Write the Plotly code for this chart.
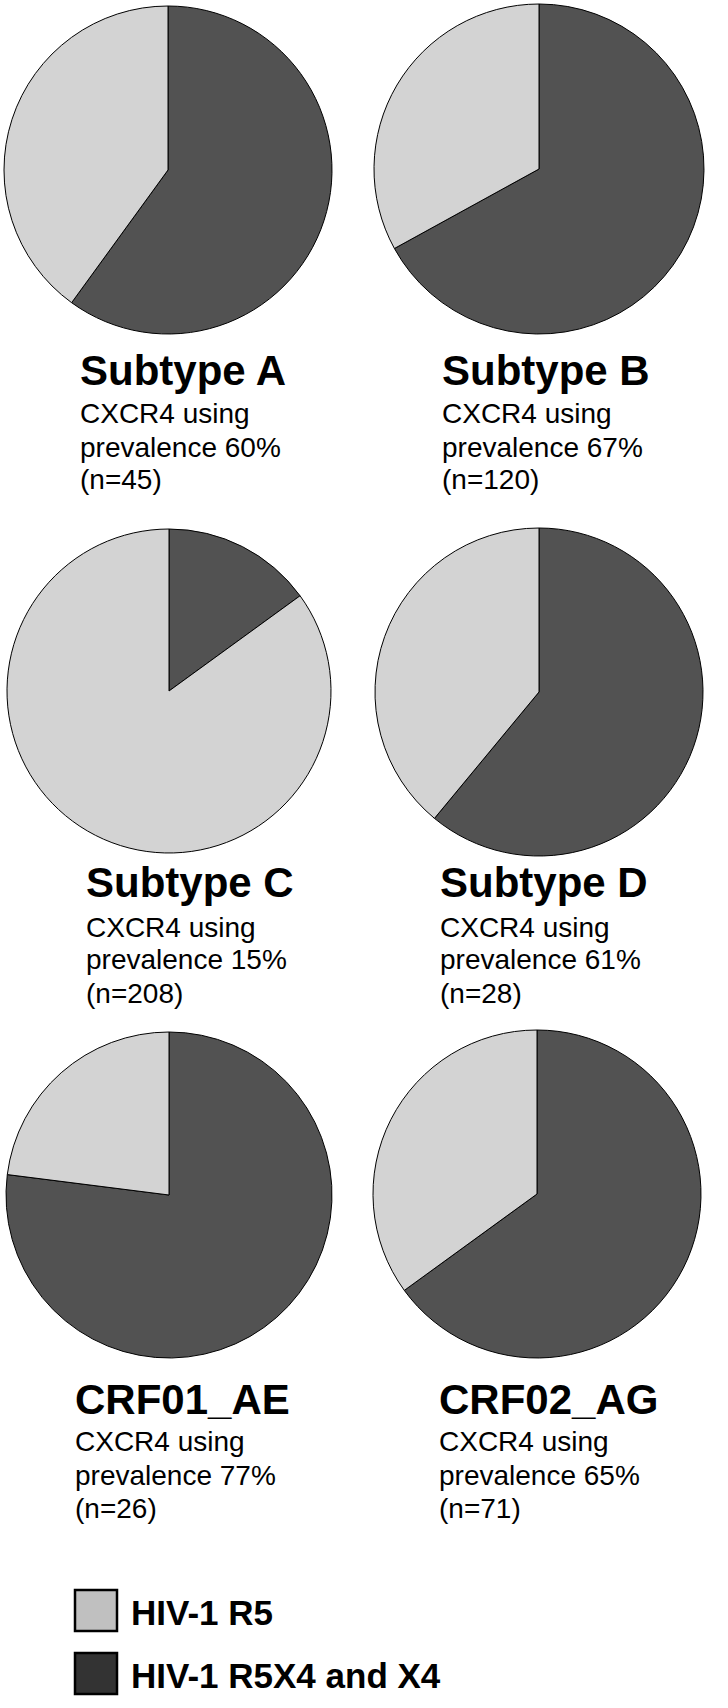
import plotly.graph_objects as go

W, H = 728, 1708

subtypes = ['Subtype A', 'Subtype B', 'Subtype C', 'Subtype D', 'CRF01_AE', 'CRF02_AG']
x4_prevalence = [60, 67, 15, 61, 77, 65]
n_samples = [45, 120, 208, 28, 26, 71]
legend_labels = ['HIV-1 R5', 'HIV-1 R5X4 and X4']

# pie centre / radius in reference pixels
pie_cx = [168, 539, 169, 539, 169, 537]
pie_cy = [170, 169, 691, 692, 1195, 1194]
pie_r = [164, 165, 162, 164, 163, 164]

# text block placement (reference pixels): left x, cap-centre y of title and 3 lines
text_x = [80, 442, 86, 440, 75, 439]
title_y = [370, 370, 882, 882, 1399, 1399]
line_y = [[414, 447, 480], [414, 447, 480], [927, 960, 993],
          [927, 960, 993], [1441, 1475, 1508], [1441, 1475, 1508]]

DARK = '#525252'
LIGHT = '#d3d3d3'
FONT = 'Liberation Sans, Arial, sans-serif'
TXT_PAD = 2  # annotation box padding in front of the text


def px_x(x):
    return x / W


def px_y(y):
    return 1 - y / H


fig = go.Figure()
annotations = []

for i, name in enumerate(subtypes):
    cx, cy, r = pie_cx[i], pie_cy[i], pie_r[i]
    fig.add_trace(go.Pie(
        labels=[legend_labels[1], legend_labels[0]],
        values=[x4_prevalence[i], 100 - x4_prevalence[i]],
        sort=False,
        direction='clockwise',
        rotation=0,
        textinfo='none',
        hoverinfo='label+percent',
        marker=dict(colors=[DARK, LIGHT], line=dict(color='black', width=1)),
        domain=dict(x=[px_x(cx - r), px_x(cx + r)], y=[px_y(cy + r), px_y(cy - r)]),
        showlegend=False,
    ))

    annotations.append(dict(
        text='<b>%s</b>' % name, x=px_x(text_x[i] - TXT_PAD), y=px_y(title_y[i]),
        xref='paper', yref='paper', xanchor='left', yanchor='middle',
        showarrow=False, font=dict(family=FONT, size=42, color='black')))

    lines = ['CXCR4 using', 'prevalence %d%%' % x4_prevalence[i], '(n=%d)' % n_samples[i]]
    for txt, ly in zip(lines, line_y[i]):
        annotations.append(dict(
            text=txt, x=px_x(text_x[i] - TXT_PAD), y=px_y(ly),
            xref='paper', yref='paper', xanchor='left', yanchor='middle',
            showarrow=False, font=dict(family=FONT, size=28, color='black')))

# hand-drawn legend at the bottom
legend_colors = ['#c0c0c0', '#333333']
legend_box_y = [1590, 1653]
shapes = []
for lab, col, by in zip(legend_labels, legend_colors, legend_box_y):
    shapes.append(dict(type='rect', xref='paper', yref='paper',
                       x0=px_x(75), x1=px_x(117), y0=px_y(by + 41), y1=px_y(by),
                       fillcolor=col, line=dict(color='black', width=2.5)))
    annotations.append(dict(
        text='<b>%s</b>' % lab, x=px_x(131 - TXT_PAD), y=px_y(by + 22),
        xref='paper', yref='paper', xanchor='left', yanchor='middle',
        showarrow=False, font=dict(family=FONT, size=35, color='black')))

fig.update_layout(
    width=W, height=H,
    margin=dict(l=0, r=0, t=0, b=0),
    paper_bgcolor='white',
    plot_bgcolor='white',
    showlegend=False,
    annotations=annotations,
    shapes=shapes,
)

# drop the browser's default 8px body margin so the figure sits at (0, 0)
fig.write_html('out.html', config={'displayModeBar': False},
               post_script="document.body.style.margin = '0';")
